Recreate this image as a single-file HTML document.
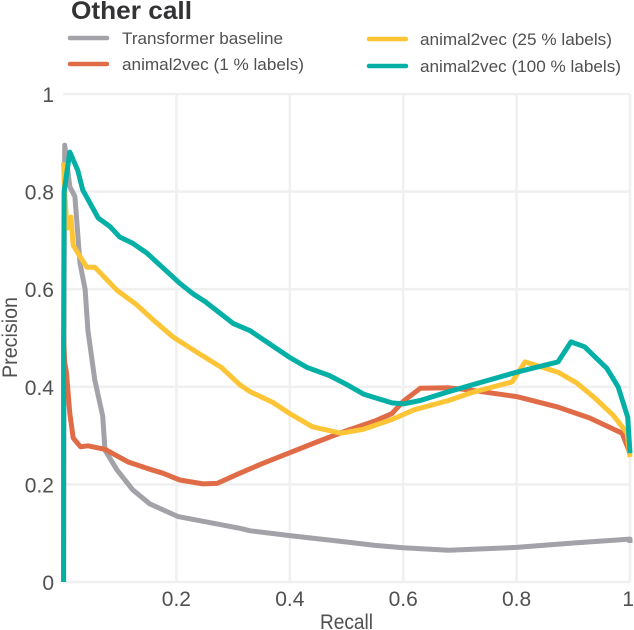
<!DOCTYPE html>
<html lang="en">
<head>
<meta charset="utf-8">
<title>Other call precision-recall chart</title>
<style>
html,body{margin:0;padding:0;background:#fff;}
body{width:634px;height:630px;overflow:hidden;}
svg{display:block;}
text{font-family:"Liberation Sans",sans-serif;fill:#505052;}
</style>
</head>
<body>
<svg id="chart" width="634" height="630" viewBox="0 0 634 630" xmlns="http://www.w3.org/2000/svg">
  <text x="71" y="19" font-size="25" font-weight="bold" textLength="121" lengthAdjust="spacingAndGlyphs" style="fill:#333335">Other call</text>

  <line x1="70" y1="38" x2="107" y2="38" stroke="#a2a2a8" stroke-width="4.5" stroke-linecap="round"/>
  <text x="122" y="44" font-size="17" textLength="161" lengthAdjust="spacingAndGlyphs">Transformer baseline</text>
  <line x1="70" y1="64" x2="107" y2="64" stroke="#e06c47" stroke-width="4.5" stroke-linecap="round"/>
  <text x="122" y="70" font-size="17" textLength="182" lengthAdjust="spacingAndGlyphs">animal2vec (1 % labels)</text>
  <line x1="369" y1="39" x2="406" y2="39" stroke="#fdc436" stroke-width="4.5" stroke-linecap="round"/>
  <text x="420" y="45" font-size="17" textLength="192" lengthAdjust="spacingAndGlyphs">animal2vec (25 % labels)</text>
  <line x1="369" y1="66" x2="406" y2="66" stroke="#04b0a6" stroke-width="4.5" stroke-linecap="round"/>
  <text x="420" y="72" font-size="17" textLength="201" lengthAdjust="spacingAndGlyphs">animal2vec (100 % labels)</text>

  <g id="grid"></g>
  <g id="ticks"></g>
  <g id="series"></g>

  <text x="320" y="629" font-size="21" textLength="53" lengthAdjust="spacingAndGlyphs">Recall</text>
  <text transform="translate(17,378) rotate(-90)" font-size="21" textLength="81" lengthAdjust="spacingAndGlyphs">Precision</text>
</svg>
<script>
const xTicks = [0.2, 0.4, 0.6, 0.8, 1];
const yTicks = [0, 0.2, 0.4, 0.6, 0.8, 1];
const xTickLabels = ['0.2', '0.4', '0.6', '0.8', '1'];
const yTickLabels = ['0', '0.2', '0.4', '0.6', '0.8', '1'];

const transformerRecall = [0.001,0.002,0.003,0.012,0.021,0.03,0.039,0.044,0.056,0.07,0.074,0.095,0.123,0.153,0.203,0.312,0.33,0.4,0.5,0.55,0.6,0.68,0.8,0.9,1,1];
const transformerPrecision = [0,0.6,0.895,0.81,0.79,0.653,0.6,0.516,0.414,0.34,0.27,0.23,0.189,0.16,0.134,0.11,0.105,0.095,0.082,0.075,0.07,0.065,0.071,0.08,0.088,0.08];

const onePctRecall = [0.001,0.003,0.006,0.012,0.018,0.031,0.044,0.074,0.115,0.148,0.176,0.206,0.247,0.272,0.312,0.35,0.4,0.45,0.5,0.55,0.58,0.6,0.63,0.68,0.72,0.8,0.871,0.929,0.986,1];
const onePctPrecision = [0.5,0.45,0.43,0.346,0.295,0.277,0.279,0.272,0.246,0.233,0.223,0.209,0.201,0.202,0.223,0.242,0.265,0.288,0.31,0.33,0.345,0.37,0.397,0.398,0.393,0.38,0.359,0.336,0.305,0.264];

const quarterRecall = [0.001,0.003,0.007,0.014,0.018,0.03,0.042,0.056,0.095,0.13,0.159,0.18,0.194,0.236,0.28,0.312,0.33,0.37,0.4,0.44,0.49,0.53,0.58,0.62,0.68,0.72,0.792,0.815,0.873,0.906,0.938,0.97,0.995,1];
const quarterPrecision = [0.86,0.8,0.725,0.748,0.69,0.667,0.645,0.645,0.598,0.568,0.537,0.516,0.502,0.471,0.439,0.404,0.39,0.368,0.345,0.318,0.305,0.313,0.333,0.353,0.372,0.388,0.41,0.451,0.43,0.408,0.377,0.342,0.305,0.256];

const fullRecall = [0.001,0.001,0.002,0.012,0.026,0.035,0.062,0.083,0.1,0.123,0.148,0.206,0.23,0.25,0.3,0.33,0.4,0.43,0.47,0.5,0.53,0.58,0.6,0.63,0.68,0.74,0.8,0.873,0.896,0.92,0.959,0.979,0.996,1];
const fullPrecision = [0,0.5,0.8,0.881,0.844,0.803,0.746,0.728,0.707,0.694,0.674,0.612,0.59,0.575,0.53,0.515,0.46,0.44,0.423,0.405,0.385,0.367,0.365,0.372,0.39,0.41,0.43,0.451,0.492,0.482,0.438,0.4,0.338,0.264];

const NS = 'http://www.w3.org/2000/svg';
function xScale(v) { return 63 + v * 567; }
function yScale(v) { return 582 - v * 488; }

const gridGroup = document.getElementById('grid');
const tickGroup = document.getElementById('ticks');
const seriesGroup = document.getElementById('series');

function drawGridLine(x1, y1, x2, y2) {
  const l = document.createElementNS(NS, 'line');
  
  
  l.setAttribute('x1', x1);
  l.setAttribute('y1', y1);
  l.setAttribute('x2', x2);
  l.setAttribute('y2', y2);
  l.setAttribute('stroke', '#f0f0f0');
  l.setAttribute('stroke-width', '2.6');
  gridGroup.appendChild(l);
}
xTicks.forEach(function (v) { drawGridLine(xScale(v), yScale(1), xScale(v), yScale(0)); });
yTicks.forEach(function (v) { drawGridLine(xScale(0), yScale(v), xScale(1), yScale(v)); });

xTicks.forEach(function (v, i) {
  const t = document.createElementNS(NS, 'text');
  
  
  t.setAttribute('x', v === 1 ? 634 : xScale(v));
  t.setAttribute('y', 606);
  t.setAttribute('font-size', '21');
  t.setAttribute('text-anchor', v === 1 ? 'end' : 'middle');
  t.textContent = xTickLabels[i];
  tickGroup.appendChild(t);
});
yTicks.forEach(function (v, i) {
  const t = document.createElementNS(NS, 'text');
  
  
  t.setAttribute('x', 54);
  t.setAttribute('y', yScale(v) + 8);
  t.setAttribute('font-size', '21');
  t.setAttribute('text-anchor', 'end');
  t.textContent = yTickLabels[i];
  tickGroup.appendChild(t);
});

function drawSeries(name, xs, ys, color) {
  const p = document.createElementNS(NS, 'polyline');
  
  
  p.setAttribute('points', xs.map(function (x, i) { return xScale(x).toFixed(1) + ',' + yScale(ys[i]).toFixed(1); }).join(' '));
  p.setAttribute('fill', 'none');
  p.setAttribute('stroke', color);
  p.setAttribute('stroke-width', '5');
  p.setAttribute('stroke-linejoin', 'round');
  seriesGroup.appendChild(p);
}
drawSeries('line-transformer-baseline', transformerRecall, transformerPrecision, '#a2a2a8');
drawSeries('line-animal2vec-1-percent', onePctRecall, onePctPrecision, '#e06c47');
drawSeries('line-animal2vec-25-percent', quarterRecall, quarterPrecision, '#fdc436');
drawSeries('line-animal2vec-100-percent', fullRecall, fullPrecision, '#04b0a6');
</script>
</body>
</html>
